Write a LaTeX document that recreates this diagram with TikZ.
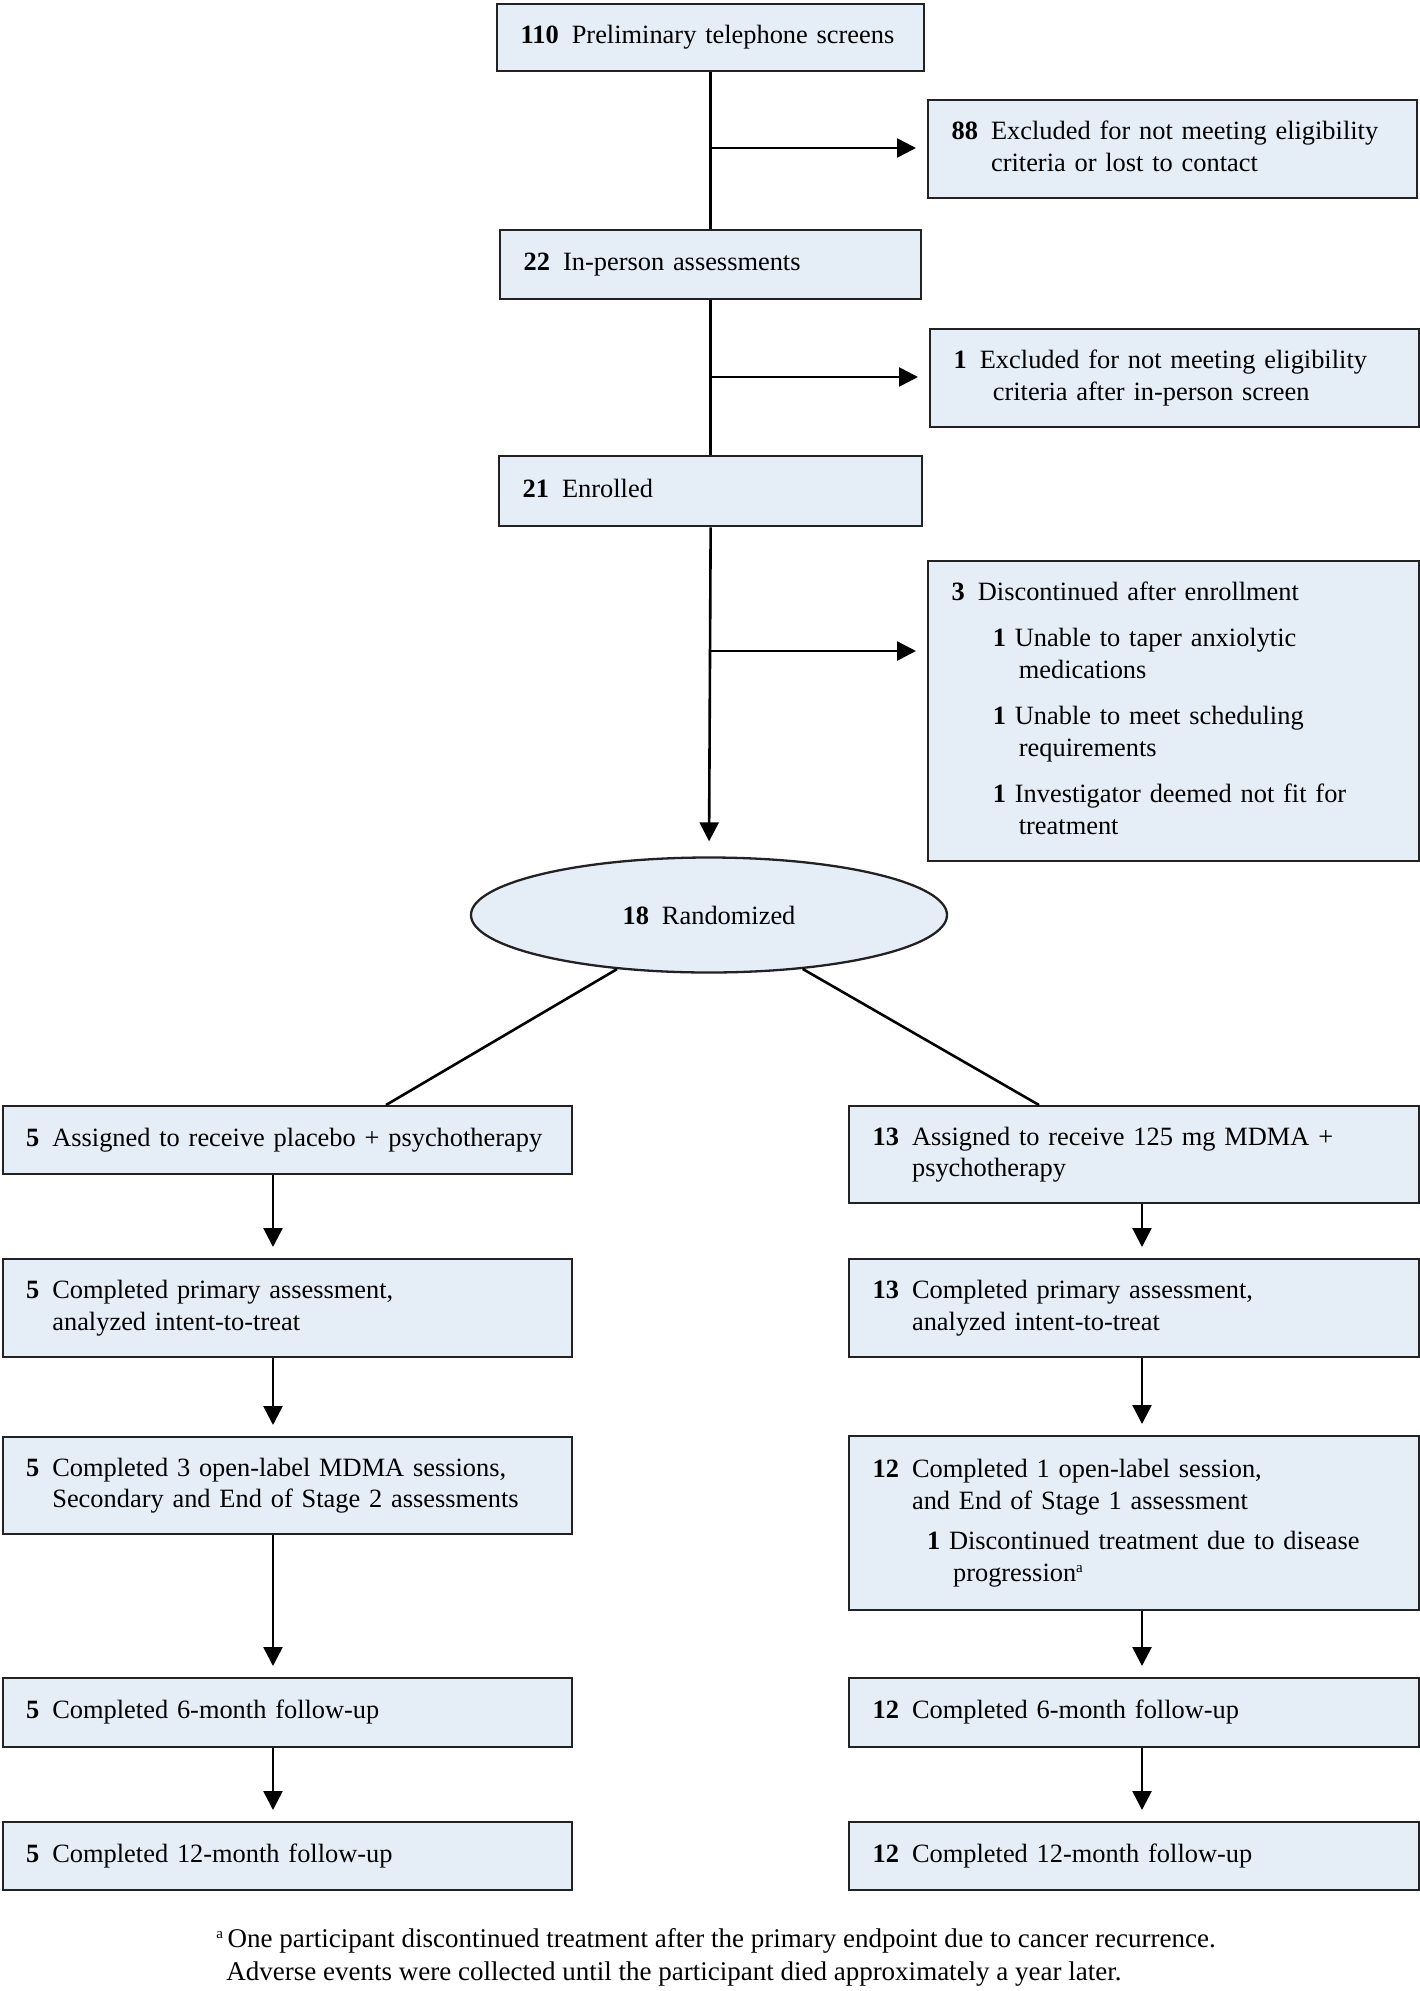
\documentclass[tikz,border=0pt]{standalone}
\usepackage{fontspec}
\setmainfont{Liberation Serif}
\usetikzlibrary{shapes.geometric,arrows.meta}
\definecolor{boxfill}{RGB}{229,237,247}
\definecolor{bordercol}{RGB}{34,34,34}
\newcommand\fs{\fontsize{13.2pt}{15.75pt}\selectfont}
\newcommand\fnfs{\fontsize{13.5pt}{15.75pt}\selectfont}
\newcommand\supa{\raisebox{0.75ex}{\fontsize{7.5pt}{7.5pt}\selectfont a}}
\newcommand\nt[2]{\begin{tabular}{@{}l@{\hspace{6.5pt}}l@{}}\textbf{#1} & #2\end{tabular}}
\tikzset{
  box/.style={draw=bordercol, line width=1.15pt, fill=boxfill, anchor=north west,
    inner xsep=11.75pt, inner ysep=0pt, align=left, font=\fs},
  conn/.style={line width=1.3pt, draw=black},
  arr/.style={conn, -{Triangle[length=9.5pt,width=9.5pt]}, shorten >=5.5pt},
}
\begin{document}
\begin{tikzpicture}[x=0.5pt,y=-0.5pt]
\path[fill=white] (0,0) rectangle (1419,1991);
\useasboundingbox (0,0) rectangle (1419,1991);

% top chain
\node[box, text width=190pt, minimum height=33.5pt] (b110) at (496,3)
  {\nt{110}{Preliminary telephone screens}};
\node[box, text width=221pt, minimum height=49pt] (b88) at (927,99)
  {\nt{88}{Excluded for not meeting eligibility\\ & criteria or lost to contact}};
\node[box, text width=187pt, minimum height=34.5pt] (b22) at (499,229)
  {\nt{22}{In-person assessments}};
\node[box, text width=220.75pt, minimum height=49pt] (bex1) at (929,328)
  {\nt{1}{Excluded for not meeting eligibility\\ & \hspace*{6.5pt}criteria after in-person screen}};
\node[box, text width=188pt, minimum height=35pt] (b21) at (498,455)
  {\nt{21}{Enrolled}};
\node[box, text width=221.75pt, minimum height=150pt] (b3) at (927,560)
  {\nt{3}{Discontinued after enrollment\\[7.5pt]
   & \hspace*{7.5pt}\textbf{1} Unable to taper anxiolytic\\
   & \hspace*{20.5pt}medications\\[7.5pt]
   & \hspace*{7.5pt}\textbf{1} Unable to meet scheduling\\
   & \hspace*{20.5pt}requirements\\[7.5pt]
   & \hspace*{7.5pt}\textbf{1} Investigator deemed not fit for\\
   & \hspace*{20.5pt}treatment}};

\node[ellipse, draw=bordercol, line width=1.15pt, fill=boxfill, minimum width=238pt,
  minimum height=57.5pt, inner sep=0pt, font=\fs] (rand) at (709,915)
  {\textbf{18}\hspace{6.5pt}Randomized};

% left column
\node[box, text width=261.25pt, minimum height=34pt] (L1) at (1.5,1105)
  {\nt{5}{Assigned to receive placebo + psychotherapy}};
\node[box, text width=261.25pt, minimum height=49pt] (L2) at (1.5,1258)
  {\nt{5}{Completed primary assessment,\\ & analyzed intent-to-treat}};
\node[box, text width=261.25pt, minimum height=48.5pt] (L3) at (1.5,1436)
  {\nt{5}{Completed 3 open-label MDMA sessions,\\ & Secondary and End of Stage 2 assessments}};
\node[box, text width=261.25pt, minimum height=34.5pt] (L4) at (1.5,1677)
  {\nt{5}{Completed 6-month follow-up}};
\node[box, text width=261.25pt, minimum height=34pt] (L5) at (1.5,1821)
  {\nt{5}{Completed 12-month follow-up}};

% right column
\node[box, text width=261.25pt, minimum height=48.5pt] (R1) at (848,1105)
  {\nt{13}{Assigned to receive 125 mg MDMA +\\ & psychotherapy}};
\node[box, text width=261.25pt, minimum height=49pt] (R2) at (848,1258)
  {\nt{13}{Completed primary assessment,\\ & analyzed intent-to-treat}};
\node[box, text width=261.25pt, minimum height=87pt] (R3) at (848,1435)
  {\nt{12}{Completed 1 open-label session,\\ & and End of Stage 1 assessment\\[4.5pt]
   & \hspace*{7.5pt}\textbf{1} Discontinued treatment due to disease\\
   & \hspace*{20.5pt}progression\supa}};
\node[box, text width=261.25pt, minimum height=34.5pt] (R4) at (848,1677)
  {\nt{12}{Completed 6-month follow-up}};
\node[box, text width=261.25pt, minimum height=34pt] (R5) at (848,1821)
  {\nt{12}{Completed 12-month follow-up}};

% footnote
\node[anchor=north west, inner sep=0pt, font=\fnfs, align=left] (fn) at (216,1925)
  {\begin{tabular}{@{}l@{}}\supa\,One participant discontinued treatment after the primary endpoint due to cancer recurrence.\\[0.75pt]
   \hspace*{5pt}Adverse events were collected until the participant died approximately a year later.\end{tabular}};

% connectors, top part
\coordinate (j1) at (709,148);
\coordinate (j2) at (709,377);
\coordinate (j3) at (709,651);
\draw[conn] (b110.south) -- (b22.north);
\draw[conn] (b22.south) -- (b21.north);
\draw[arr, shorten >=7.5pt] (b21.south) -- (rand.north);
\draw[arr] (j1) -- (j1 -| b88.west);
\draw[arr] (j2) -- (j2 -| bex1.west);
\draw[arr] (j3) -- (j3 -| b3.west);

% randomization split
\coordinate (l1t) at (386,1105);
\coordinate (r1t) at (1039,1105);
\draw[conn] (rand) -- (l1t);
\draw[conn] (rand) -- (r1t);

% column arrows
\coordinate (axL) at (273,0);
\coordinate (axR) at (1142,0);
\draw[arr] (L1.south -| axL) -- (L2.north -| axL);
\draw[arr] (L2.south -| axL) -- (L3.north -| axL);
\draw[arr] (L3.south -| axL) -- (L4.north -| axL);
\draw[arr] (L4.south -| axL) -- (L5.north -| axL);
\draw[arr] (R1.south -| axR) -- (R2.north -| axR);
\draw[arr] (R2.south -| axR) -- (R3.north -| axR);
\draw[arr] (R3.south -| axR) -- (R4.north -| axR);
\draw[arr] (R4.south -| axR) -- (R5.north -| axR);
\end{tikzpicture}
\end{document}
